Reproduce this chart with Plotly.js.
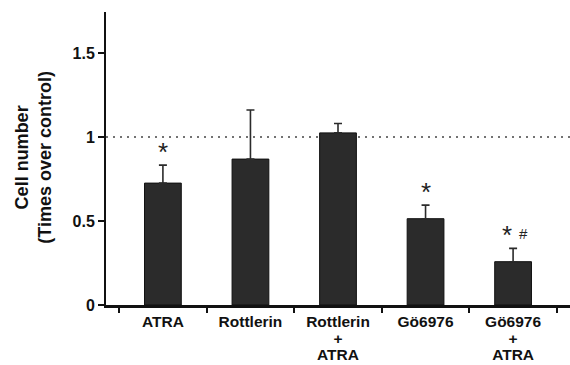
<!DOCTYPE html>
<html><head><meta charset="utf-8">
<script src="https://cdn.plot.ly/plotly-3.0.1.min.js"></script>
<style>body{margin:0;background:#fff}#c{width:570px;height:365px}</style>
</head><body><div id="c"></div>
<script>
const categories = ["ATRA", "Rottlerin", "Rottlerin<br>+<br>ATRA", "Gö6976", "Gö6976<br>+<br>ATRA"];
const values = [0.726, 0.869, 1.025, 0.514, 0.258];
const errors = [0.107, 0.292, 0.056, 0.081, 0.079];
const marks = ["*", "", "", "*", "*"];
const hashMarks = ["", "", "", "", "#"];
const yTicks = [0, 0.5, 1, 1.5];
const yTickText = ["0", "0.5", "1", "1.5"];
const controlLevel = 1;

const big = s => s.split("<br>").map(p => '<span style="font-size:15.5px">' + p + '</span>').join("<br>");

const trace = {
  type: "bar", x: categories, y: values, width: 0.42,
  marker: {color: "#2b2b2b", line: {color: "#111", width: 1}},
  error_y: {type: "data", symmetric: false, array: errors, arrayminus: errors.map(() => 0),
    color: "#2b2b2b", thickness: 1.6, width: 4},
  hoverinfo: "none"
};

const annotations = [];
categories.forEach((c, i) => {
  if (marks[i]) annotations.push({x: c, y: values[i] + errors[i], xref: "x", yref: "y",
    text: marks[i], showarrow: false, yanchor: "bottom", yshift: -4, xshift: hashMarks[i] ? -6 : 0,
    font: {family: "Liberation Sans, Arial", size: 26, color: "#222"}});
  if (hashMarks[i]) annotations.push({x: c, y: values[i] + errors[i], xref: "x", yref: "y",
    text: hashMarks[i], showarrow: false, yanchor: "bottom", yshift: 4, xshift: 10,
    font: {family: "Liberation Sans, Arial", size: 15, color: "#222"}});
});
annotations.push({xref: "paper", yref: "paper", x: -0.158, y: 0.505, xanchor: "center", yanchor: "middle",
  text: "<b>Cell number<br>(Times over control)</b>", textangle: -90, showarrow: false,
  font: {family: "Liberation Sans, Arial", size: 18, color: "#111"}});

const layout = {
  width: 570, height: 365,
  margin: {l: 106, r: 0, t: 12, b: 60},
  paper_bgcolor: "#fff", plot_bgcolor: "#fff",
  showlegend: false,
  xaxis: {type: "category", range: [-0.65, 4.65], tickson: "boundaries", ticks: "outside",
    tickmode: "array", tickvals: categories, ticktext: categories.map(big), ticklabelstandoff: 3,
    ticklen: 5, tickwidth: 2, tickcolor: "#111", showline: true, linecolor: "#111", linewidth: 3,
    showgrid: false, zeroline: false,
    tickfont: {family: "Liberation Sans, Arial", size: 13, color: "#111", weight: "bold"}},
  yaxis: {range: [0, 1.745], tickvals: yTicks, ticktext: yTickText, ticks: "outside",
    ticklen: 6, tickwidth: 2, tickcolor: "#111", showline: true, linecolor: "#111", linewidth: 2,
    showgrid: false, zeroline: false,
    tickfont: {family: "Liberation Sans, Arial", size: 16, color: "#111", weight: "bold"}},
  shapes: [{type: "line", xref: "paper", yref: "y", x0: 0, x1: 1, y0: controlLevel, y1: controlLevel,
    line: {color: "#444", width: 1.5, dash: "2px,5px"}, layer: "below"}],
  annotations: annotations
};
Plotly.newPlot("c", [trace], layout, {staticPlot: true});
</script></body></html>
